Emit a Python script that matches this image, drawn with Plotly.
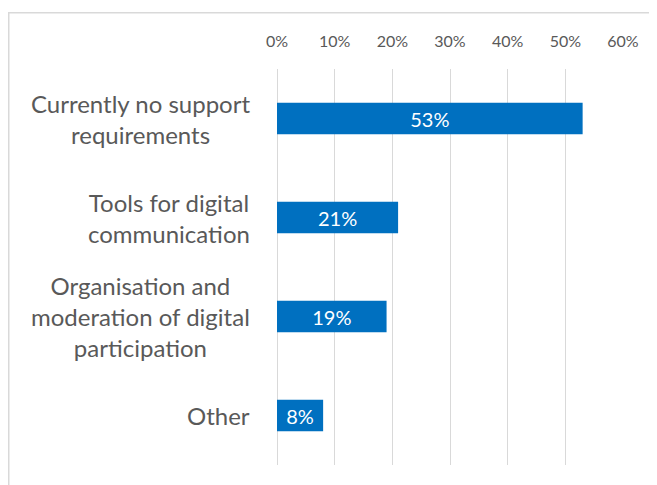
import plotly.graph_objects as go

categories = ["Currently no support<br>requirements",
              "Tools for digital<br>communication",
              "Organisation and<br>moderation of digital<br>participation",
              "Other"]
values = [53, 21, 19, 8]
labels = ["53%", "21%", "19%", "8%"]
tick_vals = [0, 10, 20, 30, 40, 50, 60]
tick_text = ["0%", "10%", "20%", "30%", "40%", "50%", "60%"]

FONT = "Lato"
GRAY = "#595959"

fig = go.Figure()
fig.add_trace(go.Bar(
    y=categories, x=values, orientation="h",
    marker=dict(color="#0070C0", line=dict(width=0)),
    width=0.32,
    text=labels, textposition="inside", insidetextanchor="middle",
    textfont=dict(family=FONT, size=20, color="white"),
    hoverinfo="skip",
))

for c in categories:
    fig.add_annotation(x=0, y=c, xref="paper", yref="y", text=c,
                       showarrow=False, xanchor="right", yanchor="middle",
                       align="center", xshift=-25,
                       font=dict(family=FONT, size=24, color=GRAY))

fig.add_shape(type="rect", xref="paper", yref="paper",
              x0=-0.7753, x1=1.12, y0=-0.2, y1=1.142,
              line=dict(color="#d9d9d9", width=1.5), fillcolor="rgba(0,0,0,0)", layer="below")

fig.update_layout(
    width=649, height=477,
    margin=dict(l=269, r=34, t=61, b=20),
    paper_bgcolor="white", plot_bgcolor="white",
    showlegend=False,
    xaxis=dict(side="top", range=[0, 60], tickvals=tick_vals, ticktext=tick_text,
               showgrid=True, gridcolor="#d9d9d9", gridwidth=1.3,
               zeroline=True, zerolinecolor="#d9d9d9", zerolinewidth=1.3,
               showline=False, ticks="", ticklabelstandoff=18,
               tickfont=dict(family=FONT, size=16, color=GRAY), fixedrange=True),
    yaxis=dict(categoryorder="array", categoryarray=categories, autorange="reversed",
               showticklabels=False, showgrid=False, zeroline=False, showline=False,
               fixedrange=True),
)

fig.write_html("out.html")
